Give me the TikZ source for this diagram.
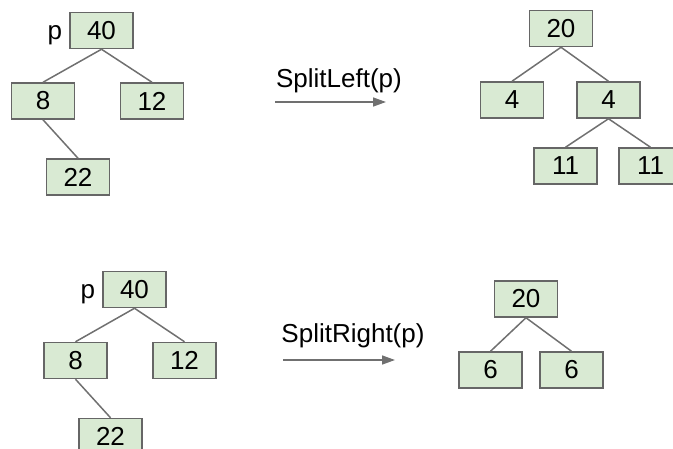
\documentclass[tikz,border=0pt]{standalone}
\usepackage{fontspec}
\setmainfont{Liberation Sans}
\usetikzlibrary{arrows.meta}
\definecolor{boxfill}{HTML}{D9EAD3}
\definecolor{boxline}{HTML}{666666}
\definecolor{edgeline}{HTML}{707070}
\tikzset{
    box/.style={draw=boxline, fill=boxfill, line width=1.5pt, minimum width=63pt,
        minimum height=36pt, inner sep=0pt, font=\fontsize{26}{30}\selectfont},
    tag/.style={inner sep=0pt, anchor=base east, font=\fontsize{26}{30}\selectfont},
    opname/.style={inner sep=0pt, anchor=base, font=\fontsize{26}{30}\selectfont},
    link/.style={draw=edgeline, line width=1.5pt},
    op/.style={draw=edgeline, line width=1.5pt, -{Triangle[length=13pt,width=9pt]}}
}

\begin{document}
\begin{tikzpicture}[x=1pt, y=-1pt]
    \useasboundingbox (0,0) rectangle (673,448);
    % SplitLeft, before
    \node[box](a*0)     at (101.5,30.5) {40};
    \node[tag](a*p)     at ([xshift=-7pt]a*0.base west) {p};
    \node[box](a*1)     at (43,101) {8};
    \node[box](a*2)     at (152,101) {12};
    \node[box](a*3)     at (78,177) {22};
    % SplitLeft, after
    \node[box](b*0)     at (561,28.5) {20};
    \node[box](b*1)     at (512,100) {4};
    \node[box](b*2)     at (608.5,100) {4};
    \node[box](b*3)     at (565.5,166) {11};
    \node[box](b*4)     at (650.5,166) {11};
    % SplitRight, before
    \node[box](c*0)     at (134.5,289.5) {40};
    \node[tag](c*p)     at ([xshift=-7pt]c*0.base west) {p};
    \node[box](c*1)     at (75.5,360.5) {8};
    \node[box](c*2)     at (184.5,360.5) {12};
    \node[box](c*3)     at (110.5,436.5) {22};
    % SplitRight, after
    \node[box](d*0)     at (526,299) {20};
    \node[box](d*1)     at (490.5,370) {6};
    \node[box](d*2)     at (571.5,370) {6};
    % Operations
    \node[opname](sl)   at (339,87) {SplitLeft(p)};
    \coordinate (sl*s)  at (275,102);
    \coordinate (sl*t)  at (386,102);
    \node[opname](sr)   at (353,342) {SplitRight(p)};
    \coordinate (sr*s)  at (283,360);
    \coordinate (sr*t)  at (395,360);
    % Links
    \path[link]
        (a*0.south) edge (a*1.north)
                    edge (a*2.north)
        (a*1.south) edge (a*3.north)
        (b*0.south) edge (b*1.north)
                    edge (b*2.north)
        (b*2.south) edge (b*3.north)
                    edge (b*4.north)
        (c*0.south) edge (c*1.north)
                    edge (c*2.north)
        (c*1.south) edge (c*3.north)
        (d*0.south) edge (d*1.north)
                    edge (d*2.north)
        ;
    \draw[op] (sl*s) -- (sl*t);
    \draw[op] (sr*s) -- (sr*t);
\end{tikzpicture}
\end{document}
